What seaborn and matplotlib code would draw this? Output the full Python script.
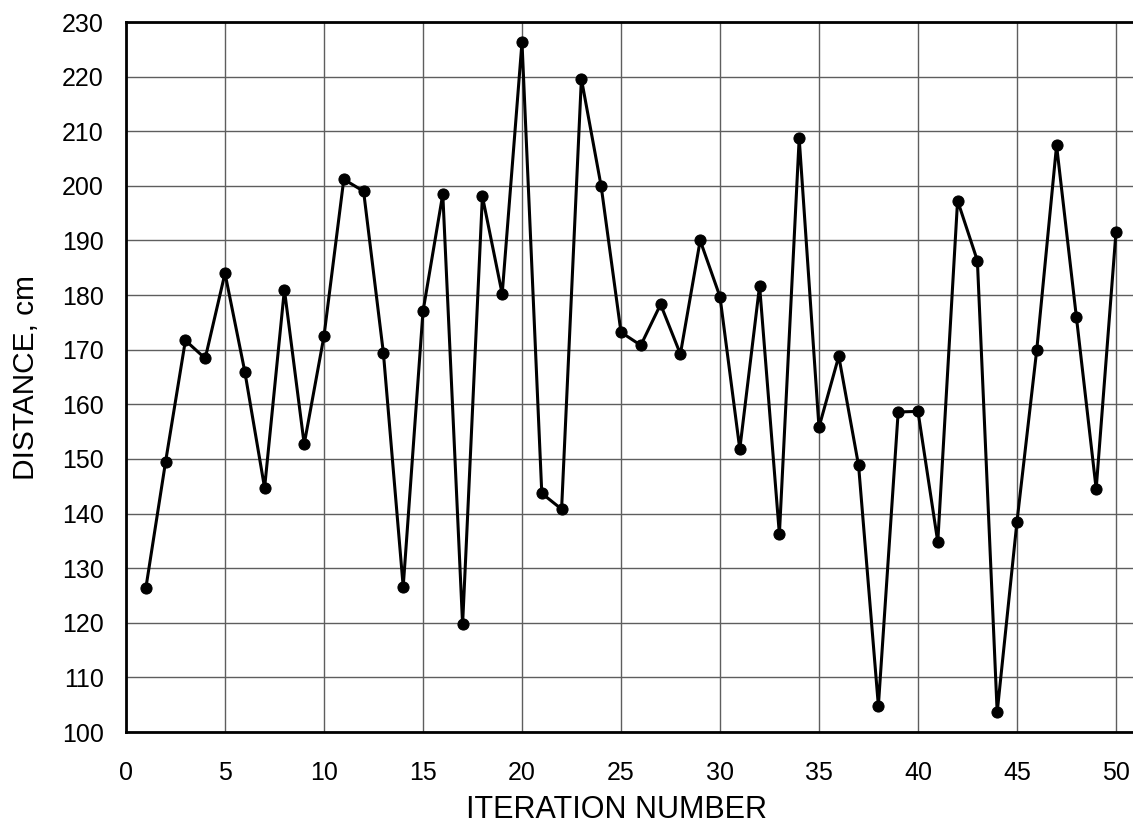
import numpy as np
import pandas as pd
import matplotlib
matplotlib.use("Agg")
import matplotlib.pyplot as plt
import seaborn as sns

iteration = list(range(1, 51))
distance = [126.3, 149.5, 171.7, 168.4, 184.0, 166.0, 144.7, 181.0, 152.7, 172.5,
            201.2, 199.0, 169.4, 126.6, 177.0, 198.5, 119.7, 198.1, 180.2, 226.3,
            143.7, 140.8, 219.6, 199.9, 173.2, 170.8, 178.3, 169.2, 190.0, 179.7,
            151.8, 181.7, 136.2, 208.7, 155.8, 168.8, 148.8, 104.8, 158.6, 158.7,
            134.8, 197.3, 186.3, 103.6, 138.5, 170.0, 207.4, 176.0, 144.5, 191.5]
x_ticks = [0, 5, 10, 15, 20, 25, 30, 35, 40, 45, 50]
y_ticks = [100, 110, 120, 130, 140, 150, 160, 170, 180, 190, 200, 210, 220, 230]
x_label = "ITERATION NUMBER"
y_label = "DISTANCE, cm"

sns.set_theme(style="white")
plt.rcParams['font.family'] = ['Liberation Sans', 'DejaVu Sans']

df = pd.DataFrame({"iter": iteration, "dist": distance})

fig = plt.figure(figsize=(11.33, 8.25), dpi=100)
ax = fig.add_axes([126 / 1133, 93 / 825, 1 - 126 / 1133, (732 - 22) / 825])

sns.lineplot(data=df, x="iter", y="dist", ax=ax, color="black", linewidth=2.2,
             marker="o", markersize=8, markeredgecolor="black",
             markerfacecolor="black", zorder=3)

ax.set_xlim(0, 50.86)
ax.set_ylim(100, 230)
ax.set_xticks(x_ticks)
ax.set_yticks(y_ticks)
ax.set_xticklabels([str(t) for t in x_ticks])
ax.set_yticklabels([str(t) for t in y_ticks])

ax.grid(True, color="#5e5e5e", linewidth=1.0, linestyle="-", zorder=0)
ax.set_axisbelow(True)

for side in ["left", "bottom", "top"]:
    ax.spines[side].set_visible(True)
    ax.spines[side].set_color("black")
    ax.spines[side].set_linewidth(2.0)
ax.spines["right"].set_visible(False)

ax.tick_params(axis="both", direction="out", length=7, width=1.8, color="black",
               labelsize=18, labelcolor="black")
ax.tick_params(axis="x", pad=14)
ax.tick_params(axis="y", pad=9)

ax.set_xlabel(x_label, fontsize=22, color="black")
ax.set_ylabel(y_label, fontsize=21.5, color="black")
ax.xaxis.set_label_coords(0.4866, -0.0887)
ax.yaxis.set_label_coords(-0.0854, 0.5)

fig.savefig("out.png", dpi=100)
